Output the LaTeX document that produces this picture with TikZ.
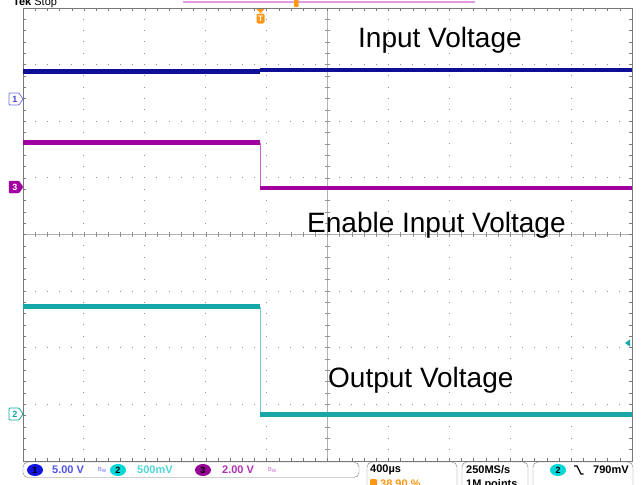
\documentclass[tikz,border=0pt]{standalone}
\usepackage{fontspec}
\setmainfont{Liberation Sans}
\usetikzlibrary{positioning,shapes.geometric}
\definecolor{chone}{RGB}{14,14,150}
\definecolor{chtwo}{RGB}{22,168,168}
\definecolor{chthree}{RGB}{160,0,160}
\definecolor{trig}{RGB}{255,150,20}
\definecolor{gridgray}{RGB}{145,145,145}
\definecolor{framegray}{RGB}{120,120,120}
\definecolor{pinkbar}{RGB}{225,155,225}
\definecolor{badgeblue}{RGB}{20,20,225}
\definecolor{badgecyan}{RGB}{0,215,215}
\definecolor{badgepurple}{RGB}{150,0,150}
\definecolor{textblue}{RGB}{80,80,230}
\definecolor{textcyan}{RGB}{80,215,215}
\definecolor{textpurple}{RGB}{175,50,175}
\begin{document}
\begin{tikzpicture}[x=1pt,y=-1pt,
    biglabel/.style={font=\fontsize{28}{30}\selectfont,inner sep=0pt,anchor=base west},
    readout/.style={font=\fontsize{11}{12}\selectfont\bfseries,inner sep=0pt,anchor=west},
    chbadge/.style={ellipse,minimum width=16pt,minimum height=12pt,inner sep=0pt,font=\fontsize{9}{9}\selectfont\bfseries},
    tagnum/.style={font=\fontsize{9}{9}\selectfont\bfseries,inner sep=0pt},
    trace/.style={line width=4.5pt},
    statbox/.style={draw=framegray,rounded corners=5pt}]
    \useasboundingbox[fill=white] (0,0) rectangle (641,485);
    % grid dots
    \foreach \i in {1,2,3,4,6,7,8,9} {
        \foreach \j in {1,...,39} {
            \fill[gridgray] ({23+\i*60.9-0.5},{8+\j*11.32-0.5}) rectangle ++(1,1);
        }
    }
    \foreach \j in {1,2,3,5,6,7} {
        \foreach \i in {1,...,49} {
            \fill[gridgray] ({23+\i*12.18-0.5},{8+\j*56.6-0.5}) rectangle ++(1,1);
        }
    }
    % centre axes
    \draw[gridgray!70] (23,234.5) -- (632,234.5);
    \draw[gridgray!70] (327.5,8) -- (327.5,461);
    \foreach \i in {1,...,49} {
        \draw[gridgray] ({23+\i*12.18},232) -- ++(0,5);
        \draw[framegray] ({23+\i*12.18},8) -- ++(0,3);
        \draw[framegray] ({23+\i*12.18},461) -- ++(0,-3);
    }
    \foreach \j in {1,...,39} {
        \draw[gridgray] (325,{8+\j*11.32}) -- ++(5,0);
        \draw[framegray] (23,{8+\j*11.32}) -- ++(3,0);
        \draw[framegray] (632,{8+\j*11.32}) -- ++(-3,0);
    }
    \draw[framegray] (23,8) rectangle (632,461);
    % traces
    \draw[chone,trace] (23,71.5) -- (260,71.5);
    \draw[chone,trace] (260,70) -- (632,70);
    \draw[chthree!60,line width=1pt] (260,142.5) -- (260,188);
    \draw[chthree,trace] (23,142.5) -- (260,142.5);
    \draw[chthree,trace] (260,188) -- (632,188);
    \draw[chtwo!60,line width=1pt] (260,306.5) -- (260,414.5);
    \draw[chtwo,trace] (23,306.5) -- (260,306.5);
    \draw[chtwo,trace] (260,414.5) -- (632,414.5);
    % channel tags
    \filldraw[fill=white,draw=badgeblue!60,line width=0.8pt,rounded corners=1pt] (9,93) -- (19,93) -- (23,99) -- (19,105) -- (9,105) -- cycle;
    \node[tagnum,text=badgeblue!80] (tagone) at (15,99) {1};
    \filldraw[fill=chthree,draw=chthree,rounded corners=1pt] (9,181) -- (19,181) -- (23,187) -- (19,193) -- (9,193) -- cycle;
    \node[tagnum,text=white] (tagthree) at (15,187) {3};
    \filldraw[fill=white,draw=chtwo,line width=0.8pt,rounded corners=1pt] (9,408) -- (19,408) -- (23,414) -- (19,420) -- (9,420) -- cycle;
    \node[tagnum,text=chtwo] (tagtwo) at (15,414) {2};
    \fill[chtwo] (625,343) -- (630,339.5) -- (630,346.5) -- cycle;
    % trigger marks
    \draw[pinkbar,line width=1.5pt] (183,2) -- (475,2);
    \fill[trig,rounded corners=1pt] (294,-2) rectangle (298.5,7);
    \fill[trig] (256.5,9) -- (264.5,9) -- (260.5,13) -- cycle;
    \node[fill=trig,text=white,rounded corners=2pt,inner sep=0pt,minimum width=8pt,minimum height=10pt,font=\fontsize{8}{8}\selectfont\bfseries] (trigmark) at (260.5,18.5) {T};
    \node[font=\fontsize{11}{12}\selectfont,inner sep=0pt,anchor=base west] (tekstop) at (13,5) {\textbf{Tek} Stop};
    % labels
    \node[biglabel] (inlabel) at (358,47) {Input Voltage};
    \node[biglabel] (enlabel) at (307,232) {Enable Input Voltage};
    \node[biglabel] (outlabel) at (328,387) {Output Voltage};
    % status bar
    \draw[statbox] (23,462) rectangle (359,477.5);
    \draw[statbox] (367,462) rectangle (457,500);
    \draw[statbox] (462,462) rectangle (528,500);
    \draw[statbox] (533,462) rectangle (633,500);
    \node[chbadge,fill=badgeblue] (badgeone) at (35,470) {1};
    \node[readout,text=textblue] (voltone) at (52,470) {5.00 V};
    \node[font=\fontsize{6}{6}\selectfont,text=textblue!80,inner sep=0pt] (bwone) at (102,470) {B\raisebox{-1.5pt}{w}};
    \node[chbadge,fill=badgecyan] (badgetwo) at (118,470) {2};
    \node[readout,text=textcyan] (volttwo) at (137,470) {500mV};
    \node[chbadge,fill=badgepurple] (badgethree) at (203,470) {3};
    \node[readout,text=textpurple] (voltthree) at (222,470) {2.00 V};
    \node[font=\fontsize{6}{6}\selectfont,text=textpurple!70,inner sep=0pt] (bwthree) at (272,470) {B\raisebox{-1.5pt}{w}};
    \node[readout] (timebase) at (370,470) {400µs};
    \fill[trig,rounded corners=1pt] (370,479) rectangle (377,488);
    \node[font=\fontsize{11}{12}\selectfont\bfseries,text=trig,inner sep=0pt,anchor=base west] (trigpos) at (380,487) {38.90 \%};
    \node[readout] (samplerate) at (466,470) {250MS/s};
    \node[font=\fontsize{11}{12}\selectfont\bfseries,inner sep=0pt,anchor=base west] (reclen) at (466,487) {1M points};
    \node[chbadge,fill=badgecyan] (badgetrig) at (558,470) {2};
    \draw[line width=1.2pt] (574,466) -- (577,466) -- (581,474) -- (583.5,474);
    \node[readout] (triglevel) at (593,470) {790mV};
\end{tikzpicture}
\end{document}
